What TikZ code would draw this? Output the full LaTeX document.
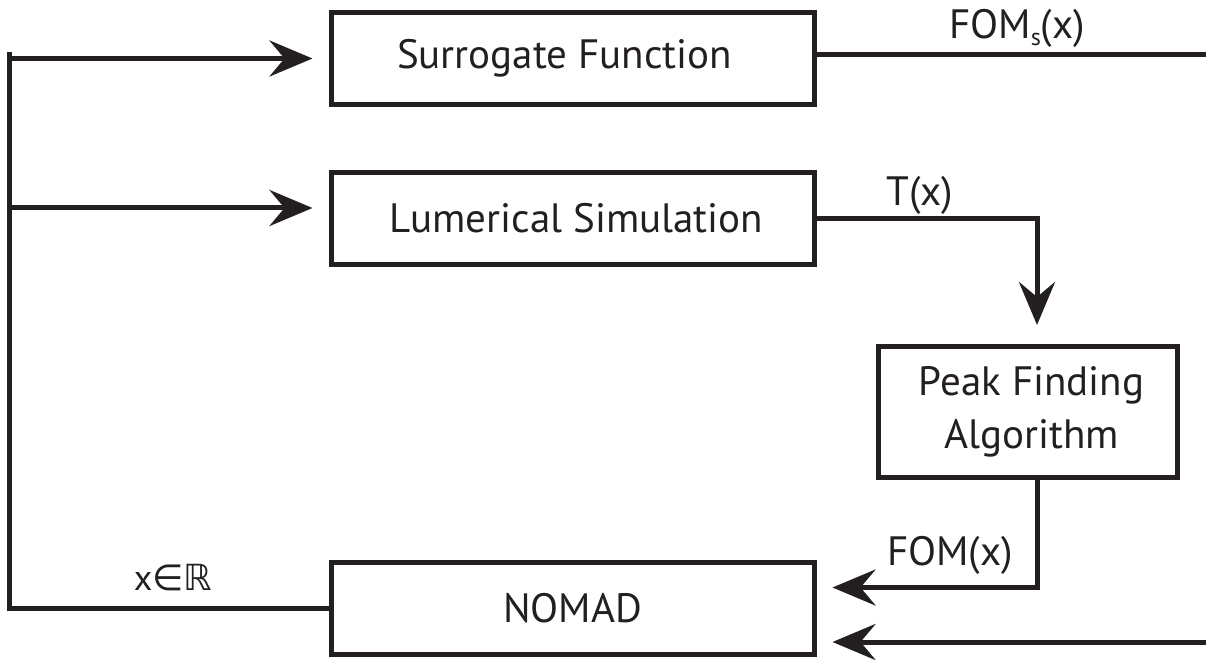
\documentclass[tikz,border=0pt]{standalone}
\usepackage{fontspec}
\setmainfont{PT Sans}
\newfontfamily\symfont{DejaVu Sans}
\usetikzlibrary{arrows.meta}
\definecolor{ink}{HTML}{231F20}
\tikzset{
  box/.style={draw=ink, line width=5pt, rectangle, inner sep=0pt, text=ink,
    font=\fontsize{41}{53}\selectfont, align=center},
  conn/.style={draw=ink, line width=5pt},
  arr/.style={conn, -{Stealth[length=43pt, width=36pt, inset=15pt]}},
  lbl/.style={text=ink, font=\fontsize{41}{50}\selectfont, inner sep=0pt, anchor=base},
}
\begin{document}
\begin{tikzpicture}[x=1pt, y=-1pt]
\useasboundingbox (0,0) rectangle (1206,660);
\node[box, minimum width=483pt, minimum height=92pt] (sur) at (572.5,58.5) {\hspace*{-16pt}Surrogate Function};
\node[box, minimum width=483pt, minimum height=92pt] (lum) at (572.5,218.5) {\hspace*{8pt}Lumerical Simulation};
\node[box, minimum width=299pt, minimum height=131pt] (peak) at (1027.5,412) {\hspace*{8pt}Peak Finding\\\hspace*{8pt}Algorithm};
\node[box, minimum width=483pt, minimum height=92pt] (nomad) at (572.5,608.5) {NOMAD};

\coordinate (top) at (9,55);
\coordinate (b1) at (9,58.5);
\coordinate (b2) at (9,208);
\coordinate (bl) at (9,608.5);
\coordinate (sr) at (1206,55);
\coordinate (c1) at (1037,218.5);
\coordinate (c2) at (1037,587.5);
\coordinate (br) at (1206,642);

% feedback to inputs
\draw[conn, line cap=rect] (nomad.west) -- (bl) -- (top);
\draw[arr, shorten >=16pt] (b1) -- (sur.west);
\draw[arr, shorten >=16pt] (b2) -- (b2 -| lum.west);

% surrogate output
\draw[conn] (sr -| sur.east) -- (sr);
% lumerical to peak finding
\draw[arr, shorten >=19pt, line join=miter] (lum.east) -- (c1) -- (c1 |- peak.north);
% peak finding to nomad
\draw[arr, shorten >=16pt, line join=miter] (c1 |- peak.south) -- (c2) -- (c2 -| nomad.east);
% surrogate return to nomad
\draw[arr, shorten >=16pt] (br) -- (br -| nomad.east);

% labels
\node[lbl] (lfs) at (1017,39) {FOM\raisebox{-7pt}{\fontsize{24}{24}\selectfont s}(x)};
\node[lbl] (lt) at (920,206) {T(x)};
\node[lbl] (lf) at (950,565) {FOM(x)};
\node[lbl, font=\fontsize{36}{44}\selectfont] (lx) at (173,590) {x{\symfont ∈ℝ}};
\end{tikzpicture}
\end{document}
